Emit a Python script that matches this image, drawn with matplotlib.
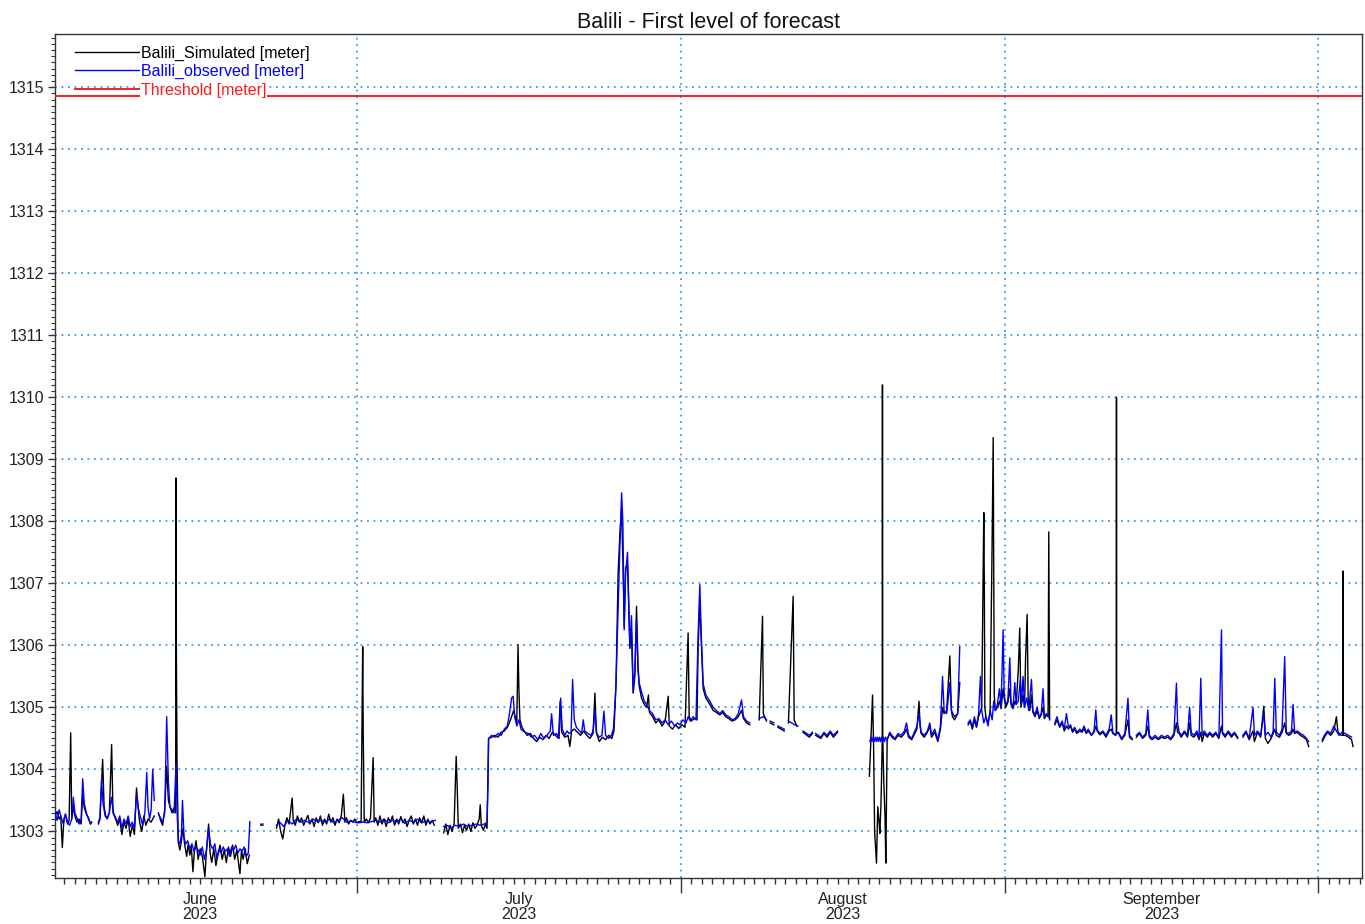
import numpy as np
import matplotlib
matplotlib.use("Agg")
import matplotlib.pyplot as plt
import matplotlib.dates as mdates
from matplotlib.ticker import MultipleLocator, NullFormatter, NullLocator

plt.rcParams['font.family'] = ['Liberation Sans', 'DejaVu Sans']

# ---------------- data (day offset since 2023-06-01 00:00, level in metres) ----------------
START = '2023-06-01'
THRESHOLD = 1314.85
X_RANGE_DAYS = (1.1, 126.2)
Y_RANGE = (1302.25, 1315.85)
MONTH_STARTS = ['2023-06-01', '2023-07-01', '2023-08-01', '2023-09-01', '2023-10-01']
MONTH_LABELS = ['June\n2023', 'July\n2023', 'August\n2023', 'September\n2023']
Y_TICKS = list(range(1303, 1316))

obs_june = [
    (1.1, 1303.30), (1.3, 1303.18), (1.5, 1303.35), (1.7, 1303.22), (1.9, 1303.12), (2.1, 1303.28),
    (2.3, 1303.15), (2.5, 1303.10), (2.7, 1303.20), (2.85, 1303.55), (3.0, 1303.30), (3.2, 1303.22),
    (3.4, 1303.12), (3.6, 1303.20), (3.75, 1303.85), (3.9, 1303.45), (4.1, 1303.30), (4.3, 1303.20),
    (4.5, 1303.12), (4.6, 1303.15), (4.7, None),
    (5.25, 1303.15), (5.4, 1303.22), (5.55, 1303.83), (5.7, 1303.45), (5.9, 1303.25), (6.1, 1303.20),
    (6.3, 1303.30), (6.5, 1303.55), (6.7, 1303.30), (6.9, 1303.22), (7.1, 1303.15), (7.3, 1303.25),
    (7.5, 1303.05), (7.7, 1303.20), (7.9, 1303.12), (8.1, 1303.25), (8.3, 1303.08), (8.5, 1303.15),
    (8.7, 1303.05), (8.9, 1303.60), (9.1, 1303.35), (9.3, 1303.22), (9.5, 1303.10), (9.7, 1303.30),
    (9.88, 1303.95), (10.0, 1303.40), (10.15, 1303.20), (10.3, 1303.35), (10.45, 1304.00), (10.6, 1303.50),
    (10.7, None),
    (11.0, 1303.28), (11.2, 1303.22), (11.4, 1303.15), (11.6, 1303.30), (11.79, 1304.85), (11.95, 1303.80),
    (12.1, 1303.40), (12.3, 1303.35), (12.5, 1303.30), (12.68, 1304.08), (12.8, 1303.25), (12.9, 1302.85),
    (13.05, 1302.80), (13.2, 1302.95), (13.3, 1303.50), (13.45, 1302.90), (13.6, 1302.80), (13.8, 1302.85),
    (14.0, 1302.72), (14.2, 1302.80), (14.4, 1302.68), (14.6, 1302.75), (14.8, 1302.70), (15.0, 1302.62),
    (15.2, 1302.75), (15.4, 1302.55), (15.6, 1302.70), (15.8, 1303.05), (16.0, 1302.78), (16.2, 1302.72),
    (16.4, 1302.80), (16.6, 1302.55), (16.8, 1302.70), (17.0, 1302.65), (17.2, 1302.75), (17.4, 1302.68),
    (17.6, 1302.72), (17.8, 1302.60), (18.0, 1302.75), (18.2, 1302.70), (18.4, 1302.78), (18.6, 1302.65),
    (18.8, 1302.72), (19.0, 1302.68), (19.2, 1302.75), (19.4, 1302.60), (19.6, 1302.65), (19.75, 1303.16),
    (19.8, None),
    (20.8, 1303.12), (21.0, 1303.10),
]

sim_june = [
    (1.1, 1303.25), (1.3, 1303.32), (1.5, 1303.20), (1.65, 1303.25), (1.8, 1302.74), (1.95, 1303.20),
    (2.1, 1303.28), (2.3, 1303.12), (2.45, 1303.18), (2.6, 1304.59), (2.7, 1303.20), (2.85, 1303.40),
    (3.0, 1303.25), (3.2, 1303.15), (3.4, 1303.20), (3.6, 1303.12), (3.75, 1303.60), (3.9, 1303.38),
    (4.1, 1303.28), (4.3, 1303.22), (4.5, 1303.12), (4.6, 1303.15), (4.7, None),
    (5.25, 1303.12), (5.4, 1303.20), (5.66, 1304.16), (5.8, 1303.40), (5.95, 1303.25), (6.1, 1303.22),
    (6.3, 1303.30), (6.52, 1304.40), (6.65, 1303.30), (6.9, 1303.20), (7.1, 1303.10), (7.3, 1303.20),
    (7.5, 1302.95), (7.7, 1303.15), (7.9, 1303.05), (8.1, 1303.20), (8.3, 1302.92), (8.5, 1303.10),
    (8.7, 1302.95), (8.9, 1303.70), (9.05, 1303.40), (9.2, 1303.15), (9.4, 1303.00), (9.6, 1303.25),
    (9.8, 1303.10), (10.0, 1303.20), (10.3, 1303.15), (10.6, 1303.25), (10.7, None),
    (11.0, 1303.30), (11.2, 1303.18), (11.4, 1303.10), (11.6, 1303.35), (11.79, 1304.05), (11.95, 1303.50),
    (12.1, 1303.40), (12.3, 1303.30), (12.5, 1303.38), (12.65, 1303.30), (12.68, 1308.70), (12.72, 1305.80),
    (12.78, 1304.10), (12.9, 1302.82), (13.05, 1302.70), (13.2, 1302.85), (13.35, 1303.05), (13.5, 1302.80),
    (13.7, 1302.60), (13.85, 1302.80), (14.0, 1302.62), (14.15, 1302.75), (14.3, 1302.35), (14.45, 1302.70),
    (14.6, 1302.85), (14.8, 1302.55), (15.0, 1302.72), (15.2, 1302.60), (15.45, 1302.27), (15.6, 1302.70),
    (15.8, 1303.12), (15.95, 1302.65), (16.1, 1302.50), (16.3, 1302.72), (16.5, 1302.45), (16.7, 1302.65),
    (16.9, 1302.78), (17.1, 1302.55), (17.3, 1302.70), (17.5, 1302.50), (17.7, 1302.75), (17.9, 1302.60),
    (18.1, 1302.78), (18.3, 1302.55), (18.5, 1302.70), (18.8, 1302.32), (18.95, 1302.70), (19.1, 1302.55),
    (19.3, 1302.72), (19.5, 1302.48), (19.7, 1302.62), (19.8, None),
    (20.8, 1303.10), (21.0, 1303.12),
]

obs_late_june = [
    (22.3, 1303.10), (22.6, 1303.15), (23.0, 1303.08), (23.4, 1303.18), (23.8, 1303.12), (24.2, 1303.20),
    (24.6, 1303.15), (25.0, 1303.18), (25.4, 1303.14), (25.8, 1303.20), (26.2, 1303.16), (26.6, 1303.18),
    (27.0, 1303.15), (27.4, 1303.20), (27.8, 1303.14), (28.2, 1303.18), (28.6, 1303.22), (29.0, 1303.15),
    (29.4, 1303.17), (29.8, 1303.15), (30.2, 1303.14), (30.6, 1303.15), (31.0, 1303.14), (31.4, 1303.16),
    (31.8, 1303.18), (32.2, 1303.15), (32.6, 1303.20), (33.0, 1303.14), (33.4, 1303.18), (33.8, 1303.16),
    (34.2, 1303.20), (34.6, 1303.13), (35.0, 1303.18), (35.4, 1303.15), (35.8, 1303.20), (36.2, 1303.14),
    (36.6, 1303.17), (37.0, 1303.15), (37.5, 1303.18),
]

sim_late_june = [
    (22.3, 1303.05), (22.5, 1303.20), (22.7, 1303.00), (22.9, 1302.88), (23.1, 1303.10), (23.3, 1303.22),
    (23.5, 1303.12), (23.8, 1303.54), (23.9, 1303.18), (24.1, 1303.10), (24.3, 1303.25), (24.5, 1303.15),
    (24.7, 1303.22), (24.9, 1303.10), (25.1, 1303.18), (25.3, 1303.26), (25.5, 1303.12), (25.7, 1303.20),
    (25.9, 1303.08), (26.1, 1303.22), (26.3, 1303.14), (26.5, 1303.25), (26.7, 1303.10), (26.9, 1303.20),
    (27.1, 1303.12), (27.3, 1303.28), (27.5, 1303.15), (27.7, 1303.22), (27.9, 1303.10), (28.1, 1303.20),
    (28.3, 1303.14), (28.5, 1303.25), (28.7, 1303.60), (28.85, 1303.15), (29.0, 1303.22), (29.2, 1303.12),
    (29.4, 1303.18), (29.6, 1303.15), (29.8, 1303.20), (30.0, 1303.14), (30.2, 1303.16), (30.4, 1303.15),
    (30.55, 1305.98), (30.6, 1304.60), (30.7, 1303.15), (30.9, 1303.20), (31.1, 1303.14), (31.3, 1303.22),
    (31.55, 1304.19), (31.65, 1303.15), (31.8, 1303.22), (32.0, 1303.10), (32.2, 1303.25), (32.4, 1303.12),
    (32.6, 1303.20), (32.8, 1303.08), (33.0, 1303.22), (33.2, 1303.15), (33.4, 1303.25), (33.6, 1303.10),
    (33.8, 1303.20), (34.0, 1303.12), (34.2, 1303.24), (34.4, 1303.14), (34.6, 1303.20), (34.8, 1303.08),
    (35.0, 1303.18), (35.2, 1303.25), (35.4, 1303.12), (35.6, 1303.20), (35.8, 1303.10), (36.0, 1303.22),
    (36.2, 1303.14), (36.4, 1303.25), (36.6, 1303.10), (36.8, 1303.20), (37.0, 1303.12), (37.2, 1303.18),
    (37.4, 1303.10),
]

obs_july = [
    (38.3, 1303.08), (38.6, 1303.10), (39.0, 1303.06), (39.4, 1303.10), (39.8, 1303.08), (40.2, 1303.12),
    (40.6, 1303.08), (41.0, 1303.10), (41.4, 1303.12), (41.8, 1303.10), (42.2, 1303.12), (42.45, 1303.15),
    (42.55, 1303.80), (42.6, 1304.50), (42.9, 1304.55), (43.2, 1304.52), (43.5, 1304.58), (43.8, 1304.55),
    (44.1, 1304.65), (44.4, 1304.70), (44.6, 1304.90), (44.8, 1305.15), (44.95, 1305.18), (45.1, 1304.85),
    (45.3, 1304.70), (45.5, 1304.80), (45.7, 1304.65), (45.9, 1304.62), (46.1, 1304.60), (46.4, 1304.58),
    (46.7, 1304.52), (47.0, 1304.55), (47.3, 1304.48), (47.6, 1304.58), (47.9, 1304.50), (48.2, 1304.55),
    (48.5, 1304.62), (48.63, 1304.90), (48.8, 1304.55), (49.1, 1304.58), (49.35, 1304.50), (49.5, 1305.15),
    (49.65, 1304.65), (49.9, 1304.55), (50.1, 1304.62), (50.3, 1304.58), (50.5, 1304.60), (50.64, 1305.45),
    (50.8, 1304.80), (51.0, 1304.68), (51.3, 1304.62), (51.5, 1304.58), (51.66, 1304.80), (51.8, 1304.62),
    (52.1, 1304.58), (52.4, 1304.55), (52.6, 1304.62), (52.8, 1304.95), (52.95, 1304.58), (53.2, 1304.52),
    (53.45, 1304.55), (53.64, 1304.94), (53.8, 1304.55), (54.1, 1304.50), (54.35, 1304.55), (54.55, 1304.65),
    (54.78, 1305.30), (55.0, 1306.60), (55.17, 1307.60), (55.33, 1308.46), (55.45, 1308.00), (55.58, 1306.25),
    (55.71, 1307.15), (55.9, 1307.50), (56.03, 1306.50), (56.12, 1306.00), (56.28, 1306.48), (56.44, 1305.25),
    (56.6, 1305.60), (56.76, 1306.40), (56.9, 1305.60), (57.01, 1305.40), (57.24, 1305.25), (57.5, 1305.10),
    (57.72, 1305.05), (58.0, 1304.95), (58.3, 1304.90), (58.6, 1304.80), (58.9, 1304.82), (59.2, 1304.75),
    (59.5, 1304.80), (59.8, 1304.72), (60.1, 1304.78), (60.4, 1304.70), (60.7, 1304.75), (60.91, 1304.72),
    (61.2, 1304.80), (61.5, 1304.75), (61.7, 1304.85), (61.9, 1304.78), (62.18, 1304.85), (62.45, 1304.80),
    (62.66, 1306.20), (62.82, 1306.98), (62.95, 1306.20), (63.14, 1305.38), (63.4, 1305.20), (63.78, 1305.10),
    (64.1, 1305.00), (64.4, 1304.95), (64.74, 1304.90), (65.0, 1304.95), (65.3, 1304.88), (65.6, 1304.85),
    (65.9, 1304.80), (66.2, 1304.82), (66.5, 1304.90), (66.81, 1305.12), (67.0, 1304.85), (67.3, 1304.78),
    (67.6, 1304.75), (67.9, None),
    (68.5, 1304.82), (68.9, 1304.85), (69.2, 1304.80), (69.4, None), (69.55, 1304.78), (69.9, 1304.75),
    (70.05, None), (70.3, 1304.70), (70.9, 1304.65), (71.05, None), (71.3, 1304.78), (71.9, 1304.72),
    (72.2, 1304.70), (72.35, None), (72.7, 1304.62), (73.3, 1304.55), (73.6, 1304.60), (73.75, None),
    (73.9, 1304.58), (74.4, 1304.52), (74.7, 1304.60), (75.0, 1304.55), (75.3, 1304.62), (75.6, 1304.55),
    (76.0, 1304.62),
]

sim_july = [
    (38.3, 1302.98), (38.5, 1303.12), (38.7, 1302.95), (38.9, 1303.10), (39.1, 1303.00), (39.3, 1303.12),
    (39.5, 1304.21), (39.6, 1303.70), (39.7, 1303.05), (39.9, 1303.12), (40.1, 1302.98), (40.3, 1303.10),
    (40.5, 1303.02), (40.7, 1303.12), (40.9, 1303.00), (41.1, 1303.14), (41.3, 1303.05), (41.5, 1303.10),
    (41.7, 1303.20), (41.8, 1303.43), (41.9, 1303.10), (42.1, 1303.02), (42.3, 1303.12), (42.45, 1303.05),
    (42.6, 1304.50), (42.9, 1304.52), (43.2, 1304.55), (43.5, 1304.52), (43.8, 1304.60), (44.1, 1304.62),
    (44.4, 1304.68), (44.7, 1304.80), (45.0, 1304.95), (45.3, 1304.75), (45.42, 1306.01), (45.5, 1305.30),
    (45.6, 1304.80), (45.8, 1304.68), (46.0, 1304.62), (46.3, 1304.55), (46.6, 1304.58), (46.9, 1304.50),
    (47.2, 1304.45), (47.5, 1304.52), (47.8, 1304.48), (48.1, 1304.55), (48.4, 1304.50), (48.7, 1304.60),
    (49.0, 1304.55), (49.3, 1304.50), (49.45, 1305.10), (49.6, 1304.60), (49.9, 1304.52), (50.2, 1304.55),
    (50.38, 1304.37), (50.55, 1304.62), (50.8, 1304.65), (51.1, 1304.60), (51.4, 1304.55), (51.7, 1304.62),
    (52.0, 1304.55), (52.3, 1304.50), (52.6, 1304.58), (52.78, 1305.23), (52.9, 1304.60), (53.2, 1304.45),
    (53.5, 1304.52), (53.8, 1304.48), (54.1, 1304.55), (54.4, 1304.50), (54.6, 1304.62), (54.8, 1305.40),
    (55.0, 1307.17), (55.17, 1307.81), (55.33, 1308.20), (55.45, 1307.40), (55.58, 1306.30), (55.71, 1307.25),
    (55.9, 1307.30), (56.03, 1306.60), (56.12, 1305.95), (56.28, 1306.20), (56.44, 1305.23), (56.6, 1305.50),
    (56.76, 1306.63), (56.9, 1305.70), (57.01, 1305.35), (57.24, 1305.15), (57.5, 1305.05), (57.72, 1305.00),
    (57.9, 1305.20), (58.0, 1304.92), (58.3, 1304.85), (58.6, 1304.75), (58.9, 1304.80), (59.2, 1304.70),
    (59.5, 1304.78), (59.79, 1305.18), (59.9, 1304.70), (60.2, 1304.65), (60.5, 1304.72), (60.8, 1304.66),
    (61.1, 1304.72), (61.4, 1304.68), (61.7, 1306.20), (61.8, 1304.85), (62.0, 1304.78), (62.3, 1304.82),
    (62.55, 1304.80), (62.66, 1306.00), (62.82, 1306.70), (62.95, 1306.10), (63.14, 1305.30), (63.4, 1305.15),
    (63.78, 1305.05), (64.1, 1304.95), (64.4, 1304.92), (64.74, 1304.88), (65.0, 1304.92), (65.3, 1304.85),
    (65.6, 1304.82), (65.9, 1304.78), (66.2, 1304.80), (66.5, 1304.85), (66.8, 1304.95), (67.0, 1304.82),
    (67.3, 1304.75), (67.6, 1304.72), (67.9, None),
    (68.5, 1304.80), (68.82, 1306.47), (68.9, 1304.90), (69.2, 1304.78), (69.4, None), (69.55, 1304.75),
    (69.9, 1304.72), (70.05, None), (70.3, 1304.68), (70.9, 1304.62), (71.05, None), (71.3, 1304.75),
    (71.75, 1306.79), (71.85, 1304.80), (72.1, 1304.70), (72.35, None), (72.7, 1304.60), (73.3, 1304.52),
    (73.6, 1304.58), (73.75, None), (73.9, 1304.55), (74.4, 1304.50), (74.7, 1304.58), (75.0, 1304.52),
    (75.3, 1304.60), (75.6, 1304.52), (76.0, 1304.60),
]

obs_august = [
    (79.1, 1304.45), (79.2, 1304.52), (79.3, 1304.45), (79.4, 1304.52), (79.5, 1304.45), (79.6, 1304.52),
    (79.7, 1304.45), (79.8, 1304.52), (79.9, 1304.45), (80.0, 1304.52), (80.1, 1304.45), (80.2, 1304.52),
    (80.3, 1304.45), (80.4, 1304.52), (80.5, 1304.45), (80.6, 1304.52), (80.75, 1304.48), (81.0, 1304.60),
    (81.2, 1304.55), (81.5, 1304.50), (81.8, 1304.58), (82.1, 1304.55), (82.4, 1304.62), (82.6, 1304.75),
    (82.8, 1304.55), (83.1, 1304.50), (83.4, 1304.62), (83.6, 1304.70), (83.8, 1304.90), (84.0, 1304.60),
    (84.3, 1304.55), (84.6, 1304.62), (84.83, 1304.75), (85.0, 1304.55), (85.3, 1304.65), (85.6, 1304.48),
    (85.85, 1304.70), (86.05, 1305.50), (86.2, 1304.95), (86.45, 1304.90), (86.75, 1305.40), (86.9, 1304.95),
    (87.2, 1304.85), (87.5, 1304.90), (87.7, 1305.98), (87.85, None),
    (88.5, 1304.75), (88.7, 1304.80), (88.9, 1304.68), (89.1, 1304.85), (89.3, 1304.70), (89.5, 1304.90),
    (89.68, 1305.50), (89.8, 1304.95), (90.0, 1304.75), (90.2, 1304.85), (90.4, 1304.70), (90.6, 1304.95),
    (90.8, 1304.80), (90.95, 1305.10), (91.1, 1304.95), (91.3, 1305.05), (91.5, 1305.30), (91.65, 1305.00),
    (91.85, 1306.25), (91.95, 1305.20), (92.1, 1305.05), (92.3, 1305.10), (92.49, 1305.80), (92.6, 1305.10),
    (92.8, 1305.00), (92.97, 1305.40), (93.1, 1305.05), (93.3, 1305.10), (93.5, 1305.45), (93.6, 1305.05),
    (93.76, 1305.50), (93.9, 1305.00), (94.1, 1305.15), (94.3, 1304.95), (94.56, 1305.45), (94.7, 1304.95),
    (94.9, 1304.88), (95.1, 1305.00), (95.3, 1304.85), (95.5, 1304.90), (95.67, 1305.30), (95.8, 1304.85),
    (96.0, 1304.90), (96.3, 1304.82),
]

sim_august = [
    (79.05, 1303.89), (79.2, 1304.50), (79.35, 1305.20), (79.45, 1304.40), (79.55, 1303.00), (79.73, 1302.49),
    (79.85, 1303.40), (80.0, 1303.10), (80.05, 1302.97), (80.15, 1303.40), (80.21, 1303.83), (80.28, 1304.50),
    (80.30, 1310.20), (80.33, 1304.50), (80.43, 1303.80), (80.55, 1303.20), (80.62, 1302.49), (80.7, 1303.80),
    (80.75, 1304.48), (81.0, 1304.58), (81.2, 1304.52), (81.5, 1304.48), (81.8, 1304.55), (82.1, 1304.52),
    (82.4, 1304.58), (82.6, 1304.65), (82.8, 1304.52), (83.1, 1304.48), (83.4, 1304.58), (83.6, 1304.65),
    (83.8, 1305.10), (83.9, 1304.70), (84.0, 1304.58), (84.3, 1304.52), (84.6, 1304.60), (84.83, 1304.70),
    (85.0, 1304.52), (85.3, 1304.60), (85.6, 1304.45), (85.85, 1304.65), (86.05, 1305.00), (86.2, 1304.90),
    (86.45, 1304.95), (86.75, 1305.83), (86.9, 1304.95), (87.0, 1304.85), (87.2, 1304.80), (87.5, 1304.90),
    (87.7, 1305.40), (87.85, None),
    (88.5, 1304.72), (88.7, 1304.78), (88.9, 1304.65), (89.1, 1304.80), (89.3, 1304.68), (89.5, 1304.85),
    (89.8, 1305.00), (89.93, 1307.06), (90.0, 1308.14), (90.05, 1307.00), (90.1, 1305.00), (90.2, 1304.85),
    (90.4, 1304.75), (90.6, 1304.90), (90.8, 1307.70), (90.9, 1309.35), (90.95, 1307.30), (91.0, 1305.20),
    (91.1, 1304.95), (91.3, 1305.00), (91.5, 1305.10), (91.65, 1304.98), (91.85, 1305.30), (91.95, 1305.15),
    (92.1, 1305.00), (92.3, 1305.08), (92.49, 1305.30), (92.6, 1305.05), (92.8, 1304.98), (92.97, 1305.10),
    (93.1, 1305.05), (93.3, 1305.60), (93.44, 1306.28), (93.55, 1305.00), (93.76, 1305.20), (93.9, 1305.00),
    (94.0, 1305.80), (94.15, 1306.50), (94.25, 1305.10), (94.4, 1304.95), (94.56, 1305.20), (94.7, 1304.92),
    (94.9, 1304.85), (95.1, 1304.95), (95.3, 1304.82), (95.5, 1304.88), (95.67, 1305.00), (95.8, 1304.82),
    (96.0, 1304.88), (96.15, 1304.85), (96.22, 1307.83), (96.3, 1304.80),
]

obs_september = [
    (96.8, 1304.75), (97.0, 1304.85), (97.27, 1304.70), (97.5, 1304.78), (97.7, 1304.65), (97.91, 1304.90),
    (98.1, 1304.68), (98.3, 1304.72), (98.5, 1304.62), (98.7, 1304.68), (98.9, 1304.60), (99.19, 1304.65),
    (99.4, 1304.62), (99.6, 1304.70), (99.8, 1304.60), (100.0, 1304.65), (100.3, 1304.55), (100.55, 1304.62),
    (100.72, 1304.96), (100.85, 1304.65), (101.1, 1304.58), (101.4, 1304.62), (101.7, 1304.55), (102.0, 1304.65),
    (102.2, 1304.88), (102.35, 1304.60), (102.6, 1304.55), (102.9, 1304.60), (103.2, 1304.50), (103.5, 1304.58),
    (103.8, 1305.15), (103.95, 1304.55), (104.2, 1304.50), (104.4, None),
    (104.6, 1304.55), (104.9, 1304.60), (105.2, 1304.52), (105.5, 1304.58), (105.7, 1304.96), (105.85, 1304.55),
    (106.1, 1304.50), (106.4, 1304.55), (106.7, 1304.50), (107.0, 1304.55), (107.3, 1304.52), (107.6, 1304.55),
    (107.9, 1304.50), (108.2, 1304.58), (108.44, 1305.39), (108.55, 1304.75), (108.7, 1304.60), (108.9, 1304.55),
    (109.2, 1304.62), (109.5, 1304.55), (109.7, 1305.00), (109.85, 1304.60), (110.1, 1304.55), (110.4, 1304.62),
    (110.6, 1304.50), (110.77, 1305.47), (110.9, 1304.55), (111.1, 1304.62), (111.4, 1304.55), (111.63, 1304.60),
    (111.9, 1304.55), (112.2, 1304.60), (112.5, 1304.52), (112.75, 1306.25), (112.85, 1304.60), (113.1, 1304.55),
    (113.4, 1304.62), (113.7, 1304.55), (114.0, 1304.60), (114.3, 1304.52), (114.5, None),
    (114.8, 1304.55), (115.1, 1304.62), (115.4, 1304.50), (115.77, 1305.00), (115.9, 1304.55), (116.2, 1304.62),
    (116.5, 1304.55), (116.8, 1304.90), (116.95, 1304.55), (117.2, 1304.60), (117.5, 1304.52), (117.7, 1304.62),
    (117.85, 1305.47), (118.0, 1304.60), (118.3, 1304.55), (118.55, 1304.65), (118.8, 1305.82), (118.95, 1304.60),
    (119.2, 1304.58), (119.45, 1304.62), (119.6, 1305.05), (119.75, 1304.60), (120.0, 1304.62), (120.3, 1304.58),
    (120.6, 1304.55), (120.88, 1304.50), (121.1, 1304.45), (121.3, None),
    (122.4, 1304.48), (122.6, 1304.55), (122.9, 1304.62), (123.2, 1304.58), (123.5, 1304.70), (123.75, 1304.62),
    (124.0, 1304.55), (124.3, 1304.60), (124.6, 1304.58), (124.9, 1304.55), (125.2, 1304.52),
]

sim_september = [
    (96.8, 1304.72), (97.0, 1304.80), (97.27, 1304.68), (97.5, 1304.75), (97.7, 1304.62), (97.91, 1304.70),
    (98.1, 1304.65), (98.3, 1304.70), (98.5, 1304.60), (98.7, 1304.65), (98.9, 1304.58), (99.19, 1304.62),
    (99.4, 1304.60), (99.6, 1304.66), (99.8, 1304.58), (100.0, 1304.62), (100.3, 1304.55), (100.55, 1304.60),
    (100.72, 1304.70), (100.85, 1304.62), (101.1, 1304.56), (101.4, 1304.60), (101.7, 1304.52), (102.0, 1304.62),
    (102.2, 1304.65), (102.35, 1304.58), (102.6, 1304.55), (102.68, 1304.60), (102.7, 1310.00), (102.72, 1304.60),
    (102.9, 1304.58), (103.2, 1304.48), (103.5, 1304.55), (103.8, 1304.80), (103.95, 1304.52), (104.2, 1304.48),
    (104.4, None),
    (104.6, 1304.52), (104.9, 1304.58), (105.2, 1304.50), (105.5, 1304.55), (105.7, 1304.70), (105.85, 1304.52),
    (106.1, 1304.48), (106.4, 1304.52), (106.7, 1304.48), (107.0, 1304.52), (107.3, 1304.50), (107.6, 1304.52),
    (107.9, 1304.48), (108.2, 1304.55), (108.44, 1304.75), (108.55, 1304.60), (108.7, 1304.58), (108.9, 1304.52),
    (109.2, 1304.60), (109.5, 1304.52), (109.7, 1304.75), (109.85, 1304.55), (110.1, 1304.52), (110.4, 1304.58),
    (110.6, 1304.48), (110.77, 1304.60), (110.9, 1304.45), (111.1, 1304.58), (111.4, 1304.52), (111.63, 1304.58),
    (111.9, 1304.52), (112.2, 1304.58), (112.5, 1304.50), (112.75, 1304.70), (112.85, 1304.58), (113.1, 1304.52),
    (113.4, 1304.60), (113.7, 1304.52), (114.0, 1304.58), (114.3, 1304.50), (114.5, None),
    (114.8, 1304.52), (115.1, 1304.60), (115.4, 1304.48), (115.77, 1304.62), (115.9, 1304.45), (116.2, 1304.60),
    (116.5, 1304.52), (116.8, 1305.02), (116.95, 1304.50), (117.2, 1304.42), (117.5, 1304.50), (117.7, 1304.58),
    (117.85, 1304.65), (118.0, 1304.55), (118.3, 1304.52), (118.55, 1304.60), (118.8, 1304.75), (118.95, 1304.58),
    (119.2, 1304.55), (119.45, 1304.58), (119.6, 1304.65), (119.75, 1304.58), (120.0, 1304.60), (120.3, 1304.55),
    (120.6, 1304.52), (120.88, 1304.48), (121.1, 1304.37), (121.3, None),
    (122.4, 1304.45), (122.6, 1304.52), (122.9, 1304.60), (123.2, 1304.55), (123.5, 1304.62), (123.75, 1304.85),
    (123.9, 1304.60), (124.2, 1304.55), (124.36, 1304.55), (124.38, 1307.20), (124.4, 1304.55), (124.6, 1304.55),
    (124.9, 1304.52), (125.2, 1304.48), (125.34, 1304.37),
]

# ---------------- helpers ----------------
BASE = mdates.date2num(np.datetime64(START))


def series(*segments):
    xs, ys = [], []
    for seg in segments:
        for d, v in seg:
            xs.append(BASE + d)
            ys.append(np.nan if v is None else v)
        xs.append(xs[-1])
        ys.append(np.nan)
    return np.array(xs), np.array(ys)


sim_x, sim_y = series(sim_june, sim_late_june, sim_july, sim_august, sim_september)
obs_x, obs_y = series(obs_june, obs_late_june, obs_july, obs_august, obs_september)

# ---------------- figure ----------------
fig = plt.figure(figsize=(13.65, 9.24), dpi=100)
ax = fig.add_axes([0.0403, 0.0498, 0.9575, 0.9129])

grid_color = '#3d9bf0'
ax.set_axisbelow(True)
ax.grid(which='major', axis='both', color=grid_color, linestyle=(0, (1, 2.6)), linewidth=1.3)

ax.plot(sim_x, sim_y, color='black', lw=1.0, label='Balili_Simulated [meter]', zorder=3)
ax.plot(obs_x, obs_y, color='#0000ff', lw=1.0, label='Balili_observed [meter]', zorder=4)
ax.axhline(THRESHOLD, color='#ff1a1a', lw=1.4, label='Threshold [meter]', zorder=5)

ax.set_xlim(BASE + X_RANGE_DAYS[0], BASE + X_RANGE_DAYS[1])
ax.set_ylim(*Y_RANGE)

# x axis: month boundaries (major), days (minor), labels at mid-month
month_nums = [mdates.date2num(np.datetime64(m)) for m in MONTH_STARTS]
ax.xaxis.set_major_locator(mdates.MonthLocator())
ax.xaxis.set_minor_locator(mdates.DayLocator())
ax.xaxis.set_major_formatter(NullFormatter())
ax.tick_params(axis='x', which='major', direction='out', length=11, width=1.0, color='#333333')
ax.tick_params(axis='x', which='minor', direction='out', length=4, width=1.0, color='#333333')

mids = [(a + b) / 2 for a, b in zip(month_nums[:-1], month_nums[1:])]
sec = ax.secondary_xaxis('bottom')
sec.set_xticks(mids)
sec.set_xticklabels(MONTH_LABELS, fontsize=11.5, color='#222222', linespacing=1.05)
sec.tick_params(axis='x', length=0, pad=10)
sec.xaxis.set_minor_locator(NullLocator())
sec.spines['bottom'].set_visible(False)

# y axis
ax.set_yticks(Y_TICKS)
ax.yaxis.set_minor_locator(MultipleLocator(0.1))
ax.tick_params(axis='y', which='major', direction='out', length=5, width=1.0, labelsize=11.5,
               labelcolor='#222222', color='#333333', pad=3)
ax.tick_params(axis='y', which='minor', direction='out', length=3, width=0.8, color='#333333')

for sp in ax.spines.values():
    sp.set_color('#333333')
    sp.set_linewidth(1.0)

ax.set_title('Balili - First level of forecast', fontsize=15.5, color='#111111', pad=5)

leg = ax.legend(loc='upper left', bbox_to_anchor=(0.0153, 0.987), borderaxespad=0, borderpad=0,
                frameon=False, fontsize=11.5, handlelength=4.0, handletextpad=0.12,
                labelspacing=0.22, labelcolor='linecolor')
for t in leg.get_texts():
    t.set_bbox(dict(facecolor='white', edgecolor='none', pad=0.5))
leg.set_zorder(10)

fig.savefig('out.png', dpi=100)
